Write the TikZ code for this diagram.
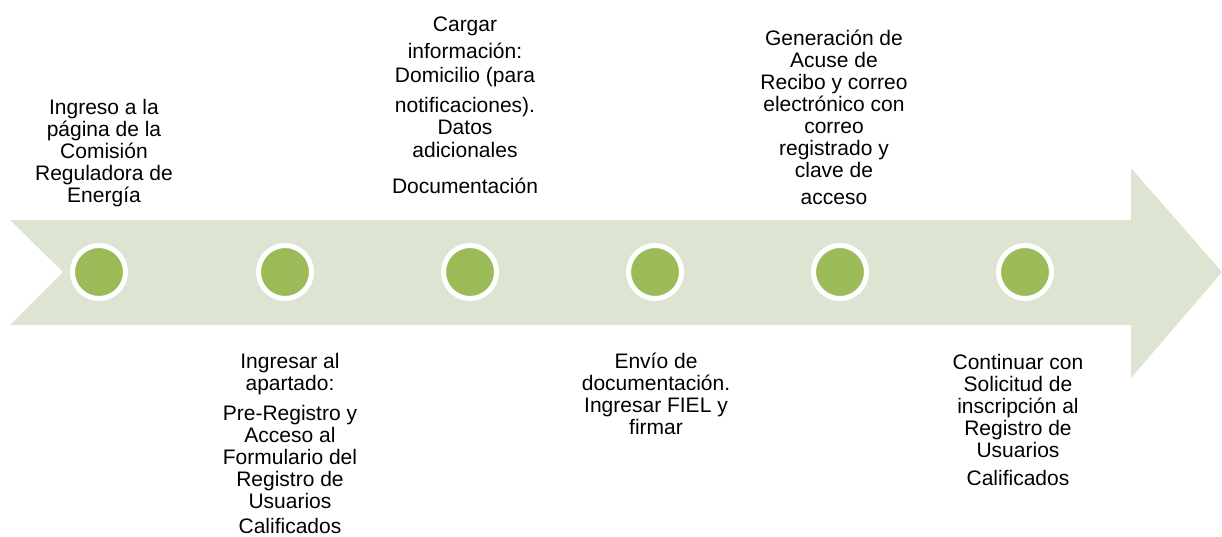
\documentclass[tikz,border=0pt]{standalone}
\usepackage{fontspec}
\setmainfont{Liberation Sans}
\definecolor{bandgreen}{RGB}{221,228,209}
\definecolor{dotgreen}{RGB}{155,187,89}

\begin{document}
\begin{tikzpicture}[x=1pt,y=-1pt,
  lbl/.style={align=center,anchor=base,inner sep=0,font=\fontsize{21}{22}\selectfont},
  dot/.style={circle,draw=white,line width=5pt,fill=dotgreen,minimum size=53pt,inner sep=0}]

\useasboundingbox (0,0) rectangle (1222,536);

% the arrow band
\fill [bandgreen] (10,220) -- (1131,220) -- (1131,168) -- (1222,272) -- (1131,378)
  -- (1131,325) -- (10,325) -- (63,272) -- cycle;

\node [dot] (c1) at (99,272) {};
\node [dot] (c2) at (285,272) {};
\node [dot] (c3) at (470,272) {};
\node [dot] (c4) at (655,272) {};
\node [dot] (c5) at (840,272) {};
\node [dot] (c6) at (1025,272) {};

% labels, placed by the baseline of their last line
\node [lbl] (t1) at (104,202) {Ingreso a la\\página de la\\Comisión\\Reguladora de\\Energía};
\node [lbl] (t2) at (290,533) {Ingresar al\\apartado:\\[8pt]Pre-Registro y\\Acceso al\\Formulario del\\Registro de\\Usuarios\\[3pt]Calificados};
\node [lbl] (t3) at (465,193) {Cargar\\[5pt]información:\\[2pt]Domicilio (para\\[8pt]notificaciones).\\Datos\\[1pt]adicionales\\[14pt]Documentación};
\node [lbl] (t4) at (656,434) {Envío de\\documentación.\\Ingresar FIEL y\\firmar};
\node [lbl] (t5) at (834,204) {Generación de\\Acuse de\\Recibo y correo\\electrónico con\\correo\\registrado y\\clave de\\[5pt]acceso};
\node [lbl] (t6) at (1018,485) {Continuar con\\Solicitud de\\inscripción al\\Registro de\\Usuarios\\[6pt]Calificados};

\end{tikzpicture}
\end{document}
